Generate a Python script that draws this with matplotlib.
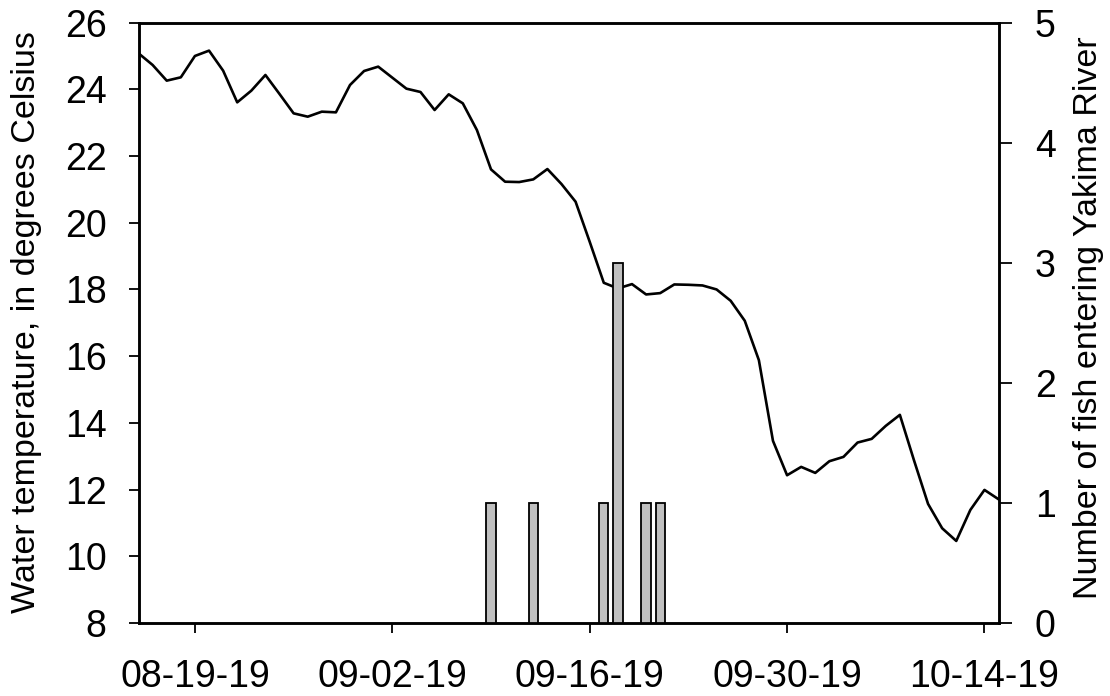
import matplotlib
matplotlib.use("Agg")
import matplotlib.pyplot as plt
import matplotlib.dates as mdates
import numpy as np
import pandas as pd

plt.rcParams['font.family'] = ['Liberation Sans', 'DejaVu Sans']

start_date = "2019-08-15"
water_temp = [25.08, 24.73, 24.26, 24.36, 25.00, 25.16, 24.56, 23.61, 23.96, 24.43,
              23.86, 23.28, 23.18, 23.33, 23.31, 24.13, 24.55, 24.68, 24.35, 24.02,
              23.92, 23.38, 23.85, 23.58, 22.78, 21.60, 21.23, 21.22, 21.30, 21.61,
              21.16, 20.63, 19.43, 18.20, 18.03, 18.16, 17.85, 17.89, 18.15, 18.14,
              18.12, 18.00, 17.66, 17.06, 15.88, 13.46, 12.43, 12.68, 12.50, 12.85,
              12.98, 13.41, 13.52, 13.91, 14.24, 12.88, 11.57, 10.84, 10.46, 11.39,
              11.99, 11.71]

fish_dates = ["2019-09-09", "2019-09-12", "2019-09-17", "2019-09-18", "2019-09-20", "2019-09-21"]
fish_counts = [1, 1, 1, 3, 1, 1]

tick_dates = ["2019-08-19", "2019-09-02", "2019-09-16", "2019-09-30", "2019-10-14"]

dates = pd.date_range(start_date, periods=len(water_temp), freq="D")
fdates = pd.to_datetime(fish_dates)

fig = plt.figure(figsize=(11.1, 6.96), dpi=100)
ax = fig.add_axes([0.1248, 0.1049, 0.8996 - 0.1248, 0.9675 - 0.1049])
ax2 = ax.twinx()

ax.plot(dates, water_temp, color='black', lw=1.9, zorder=2)
ax2.bar(fdates, fish_counts, width=0.66, color='#c0c0c0', edgecolor='black', linewidth=1.3, zorder=3)

ax.set_xlim(dates[0], dates[-1])
ax.set_ylim(8, 26)
ax.set_yticks(np.arange(8, 27, 2))
ax2.set_ylim(0, 5)
ax2.set_yticks(range(0, 6))

ax.set_xticks(pd.to_datetime(tick_dates))
ax.xaxis.set_major_formatter(mdates.DateFormatter('%m-%d-%y'))

fs = 27
ax.tick_params(axis='y', direction='out', length=7.5, width=1.3, labelsize=fs, pad=15.5)
ax2.tick_params(axis='y', direction='out', length=9, width=1.3, labelsize=fs, pad=17)
ax.tick_params(axis='x', direction='out', length=7, width=1.3, labelsize=fs, pad=19)

for a in (ax, ax2):
    for s in a.spines.values():
        s.set_linewidth(1.8)

fig.text(27 / 1110, 1 - 322.5 / 696, "Water temperature, in degrees Celsius",
         rotation=90, ha='center', va='center', fontsize=24.5)
fig.text(1088 / 1110, 1 - 318 / 696, "Number of fish entering Yakima River",
         rotation=90, ha='center', va='center', fontsize=24.5)

fig.savefig("out.png", dpi=100)
